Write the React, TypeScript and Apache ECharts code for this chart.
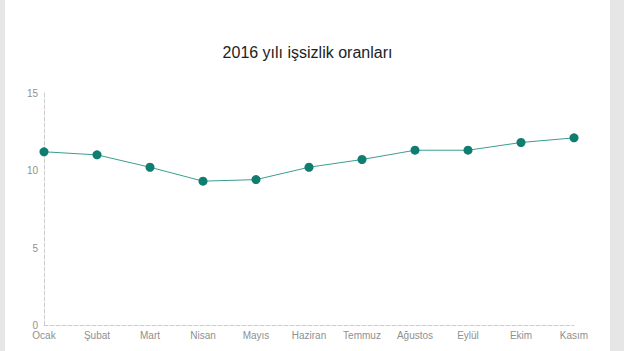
import React, { useEffect, useRef } from "react";
import * as echarts from "echarts";

const months = ["Ocak", "Şubat", "Mart", "Nisan", "Mayıs", "Haziran", "Temmuz", "Ağustos", "Eylül", "Ekim", "Kasım"];
const rates = [11.2, 11.0, 10.2, 9.3, 9.4, 10.2, 10.7, 11.3, 11.3, 11.8, 12.1];
const titleText = "2016 yılı işsizlik oranları";

export default function App() {
  const ref = useRef<HTMLDivElement>(null);
  useEffect(() => {
    if (!ref.current) return;
    const chart = echarts.init(ref.current, undefined, { renderer: "svg" });
    chart.setOption({
      animation: false,
      backgroundColor: "#ffffff",
      textStyle: { fontFamily: "Liberation Sans, Arial, sans-serif" },
      title: {
        text: titleText,
        left: "center",
        top: 39,
        textStyle: { fontSize: 16, fontWeight: "normal", color: "#222222", fontFamily: "Liberation Sans, Arial, sans-serif" },
      },
      grid: { left: 39, right: 36, top: 93, bottom: 26 },
      xAxis: {
        type: "category",
        data: months,
        boundaryGap: false,
        axisLine: { lineStyle: { color: "#cccccc", type: "dashed", width: 1 } },
        axisTick: { show: false },
        axisLabel: { color: "#909090", fontSize: 10, margin: 5, lineHeight: 10 },
      },
      yAxis: {
        type: "value",
        min: 0,
        max: 15,
        interval: 5,
        axisLine: { show: true, lineStyle: { color: "#cccccc", type: "dashed", width: 1 } },
        axisTick: { show: false },
        splitLine: { show: false },
        axisLabel: { color: "#909090", fontSize: 10, margin: 6, lineHeight: 7, verticalAlign: "bottom", padding: [0, 0, -4, 0] },
      },
      series: [
        {
          type: "line",
          data: rates,
          symbol: "circle",
          symbolSize: 9,
          lineStyle: { color: "#3a9e90", width: 1 },
          itemStyle: { color: "#0f7d6f" },
        },
      ],
    });
    return () => chart.dispose();
  }, []);
  return (
    <div style={{ position: "fixed", left: 0, top: 0, width: 624, height: 351, background: "#e6e6e6" }}>
      <div ref={ref} style={{ position: "absolute", left: 5, top: 0, width: 605, height: 351 }} />
    </div>
  );
}
